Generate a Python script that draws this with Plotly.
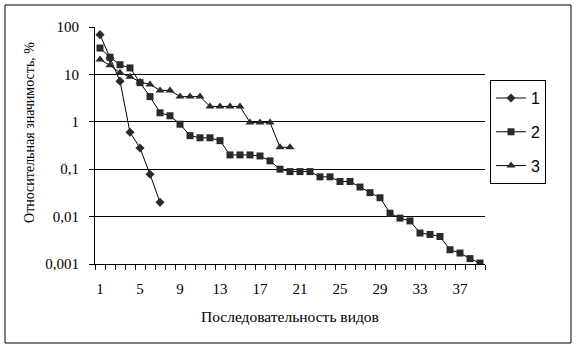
import plotly.graph_objects as go

# Relative significance (%) of species, ranked in decreasing order
seq1 = [1, 2, 3, 4, 5, 6, 7]
val1 = [69, 22, 7.2, 0.6, 0.28, 0.078, 0.02]

seq2 = list(range(1, 40))
val2 = [36, 23, 16, 13.7, 6.7, 3.4, 1.55, 1.34, 0.89, 0.51,
        0.46, 0.46, 0.40, 0.20, 0.20, 0.20, 0.19, 0.15, 0.10, 0.089,
        0.089, 0.089, 0.069, 0.069, 0.055, 0.055, 0.042, 0.032, 0.025, 0.0118,
        0.0093, 0.0081, 0.0045, 0.0042, 0.0038, 0.0020, 0.0017, 0.0013, 0.00105]

seq3 = list(range(1, 21))
val3 = [20.5, 15.6, 10.8, 8.9, 7.0, 6.1, 4.6, 4.6, 3.4, 3.4,
        3.4, 2.1, 2.1, 2.1, 2.1, 0.97, 0.97, 0.97, 0.29, 0.29]

series_names = ["1", "2", "3"]
x_ticks = [1, 5, 9, 13, 17, 21, 25, 29, 33, 37]
y_ticks = [0.001, 0.01, 0.1, 1, 10, 100]
y_ticktext = ["0,001", "0,01", "0,1", "1", "10", "100"]
x_title = "Последовательность видов"
y_title = "Относительная значимость, %"

serif = "Liberation Serif"
sans = "Liberation Sans"
mark_color = "#2a2a2a"

fig = go.Figure()
styles = [("diamond", 7), ("square", 7), ("triangle-up", 8)]
for name, xs, ys, (sym, size) in zip(series_names, [seq1, seq2, seq3],
                                     [val1, val2, val3], styles):
    fig.add_trace(go.Scatter(
        x=xs, y=ys, name=name, legendgroup=name, mode="lines+markers",
        line=dict(color="black", width=1),
        marker=dict(symbol=sym, size=size, color=mark_color,
                    line=dict(width=0)),
    ))

fig.update_layout(
    width=578, height=350,
    margin=dict(l=95, r=93, t=27, b=86),
    paper_bgcolor="white", plot_bgcolor="white",
    font=dict(family=serif, size=15, color="black"),
    showlegend=True,
    legend=dict(
        x=1.0128, y=0.776, xanchor="left", yanchor="top",
        bordercolor="black", borderwidth=1, bgcolor="white",
        font=dict(family=sans, size=16, color="black"),
        tracegroupgap=10, itemwidth=30,
    ),
    xaxis=dict(
        range=[0.5, 39.5], tickmode="array", tickvals=x_ticks,
        ticks="", showgrid=False, zeroline=False,
        showline=True, linecolor="black", linewidth=1,
        minor=dict(tick0=0.5, dtick=1, ticks="outside", ticklen=5,
                   tickcolor="black", showgrid=False),
        ticklabelstandoff=11,
        tickfont=dict(family=serif, size=15, color="black"),
    ),
    yaxis=dict(
        type="log", range=[-3, 2], tickmode="array",
        tickvals=y_ticks, ticktext=y_ticktext,
        ticks="outside", ticklen=5, tickcolor="black",
        showgrid=True, gridcolor="black", gridwidth=1,
        showline=True, linecolor="black", linewidth=1, zeroline=False,
        ticklabelstandoff=7,
        tickfont=dict(family=serif, size=15, color="black"),
    ),
    annotations=[
        dict(text=x_title, xref="paper", yref="paper", x=0.5, y=-0.2236,
             xanchor="center", yanchor="middle", showarrow=False,
             font=dict(family=serif, size=15.5, color="black")),
        dict(text=y_title, xref="paper", yref="paper", x=-0.1667, y=0.557,
             xanchor="center", yanchor="middle", showarrow=False,
             textangle=-90,
             font=dict(family=serif, size=14, color="black")),
    ],
    shapes=[dict(type="rect", xref="paper", yref="paper",
                 x0=-0.2308, x1=1.2205, y0=-0.3333, y1=1.0928,
                 line=dict(color="black", width=1), layer="below")],
)

fig.write_html("out.html")
